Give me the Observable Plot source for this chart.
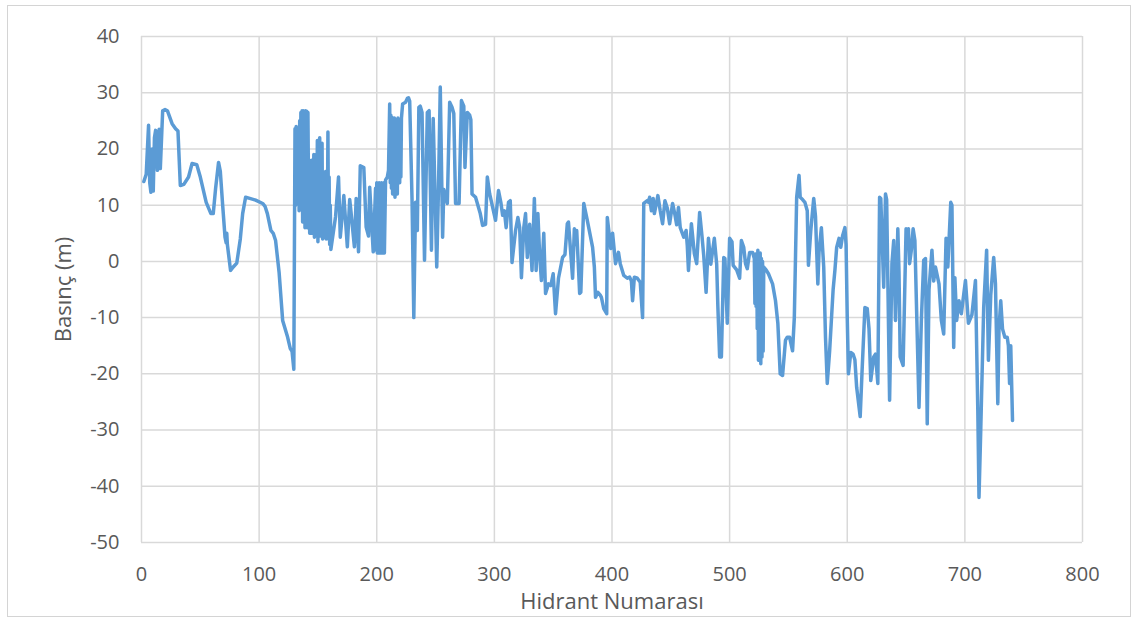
<!DOCTYPE html>
<html>
<head>
<meta charset="utf-8">
<script src="https://cdn.jsdelivr.net/npm/d3@7"></script>
<script src="https://cdn.jsdelivr.net/npm/@observablehq/plot@0.6"></script>
<style>
html, body { margin: 0; padding: 0; background: #fff; }
#wrap { position: relative; width: 1136px; height: 619px; overflow: hidden; }
#border { position: absolute; left: 7px; top: 5px; width: 1124px; height: 612px; box-sizing: border-box; border: 1px solid #d4d4d4; pointer-events: none; }
</style>
</head>
<body>
<div id="wrap"><div id="border"></div></div>
<script>
const xTitle = "Hidrant Numarası";
const yTitle = "Basınç (m)";
const xTicks = [0, 100, 200, 300, 400, 500, 600, 700, 800];
const yTicks = [-50, -40, -30, -20, -10, 0, 10, 20, 30, 40];

const hydrant = [
  2, 4, 6, 7, 8, 9, 10, 11, 12, 13.5,
  15, 16, 18, 20, 22, 26, 29, 31, 33, 36,
  40, 43, 47, 50, 55, 59, 61, 63, 65.5, 67,
  69, 71, 72, 72.5, 73, 75.7, 78, 81, 84, 86,
  88.5, 92, 97, 103, 105, 107, 110, 112, 114, 117,
  120, 124, 126.5, 128, 129.5, 130.5, 131, 131.5, 132, 132.5,
  133, 133.5, 134, 134.5, 135, 135.5, 136, 136.5, 137, 137.5,
  138, 138.5, 139, 139.5, 140, 140.5, 141, 141.5, 142, 142.5,
  143, 143.5, 144, 144.5, 145, 145.5, 146, 146.5, 147, 147.5,
  148, 148.5, 149, 149.5, 150, 150.5, 151, 151.5, 152, 152.5,
  153, 153.5, 154, 154.5, 155, 155.5, 156, 156.5, 157, 157.5,
  158, 158.5, 159, 159.5, 160, 160.5, 161, 165, 167.5, 169,
  171, 172, 175, 177, 178, 181, 182.5, 184.5, 186, 189,
  191, 193, 194, 197, 199, 199.5, 200, 200.5, 201, 201.5,
  202, 202.5, 203, 203.5, 204, 204.5, 205, 205.5, 206, 206.5,
  207.5, 209, 210, 211, 211.5, 212, 212.5, 213, 213.5, 214,
  214.5, 215, 215.5, 216, 216.5, 217, 217.5, 218, 218.5, 219,
  219.5, 220, 220.5, 221, 222, 224.5, 226, 227, 228, 230,
  231.5, 233, 234.5, 235.8, 237, 238.5, 240.6, 243, 244.5, 246.5,
  248, 251, 252.5, 254, 256, 257, 260, 262, 264, 265.5,
  267, 270, 272, 274, 275, 277, 279, 280, 281, 284,
  288, 290, 292.5, 294, 296, 301, 303.5, 305.5, 307, 308.5,
  310, 312, 313.5, 315, 318, 320, 321.5, 323, 325, 326.5,
  328, 330, 332, 334, 335.5, 337, 338.5, 340, 342, 343.5,
  346, 348, 350, 352, 354.5, 358, 360, 362, 363, 366.5,
  368, 369, 370, 372.5, 373.5, 376, 379, 383.5, 385, 386,
  388, 390, 391, 393, 395.5, 396, 397.5, 399, 400.5, 403,
  405.5, 407, 410, 413, 415, 416.5, 417.5, 419, 421.5, 424,
  426, 427, 430, 431, 432, 433.5, 435, 436, 439, 441,
  443, 445, 447, 449, 451.5, 453.5, 455, 456.5, 458, 461,
  463, 464, 465, 467.5, 470, 472, 474.5, 476.5, 478, 480,
  482, 484, 487, 489, 490, 491.5, 493, 495, 496, 498,
  500, 502, 503, 506, 508.5, 510, 512, 513.5, 515, 517,
  519.5, 521, 521.5, 522, 522.5, 523, 523.5, 524, 524.5, 525,
  525.5, 526, 526.5, 527, 527.5, 528, 528.5, 529, 531, 533,
  536.5, 539, 541, 543, 545, 547.5, 549, 551, 553.5, 555,
  557, 559, 560, 562, 564, 566, 567, 569, 571.5, 573,
  575, 576, 578, 580, 581.5, 583, 585, 588, 589.5, 591,
  593, 594.5, 596, 598, 599, 600, 601, 603, 605, 606.5,
  608, 611, 612.5, 615, 617, 618.5, 620, 622.5, 624, 626,
  627.5, 628.5, 631, 632.5, 633.5, 636, 638, 639.5, 641, 643,
  644, 645, 647.5, 650, 651, 652, 653, 654.5, 656, 657.5,
  661, 663, 665, 666.5, 668, 669.5, 672, 673.5, 675, 678,
  680, 682, 684, 685.5, 688, 689, 690.5, 691.5, 693, 695,
  697, 700.5, 703, 706, 709, 711, 712, 713.5, 716, 718.5,
  720, 722, 724.5, 726, 728, 729, 730.5, 732, 734, 736,
  737, 738, 739, 740.5
];
const pressure = [
  14.2, 15.5, 24.2, 14, 12.3, 20, 12.5, 22, 23.3, 16.2,
  23.5, 16.5, 26.8, 27, 26.8, 24.5, 23.6, 23.2, 13.5, 13.7,
  15, 17.4, 17.2, 15, 10.5, 8.5, 8.5, 13, 17.6, 16,
  10, 4.3, 3.3, 5, 3, -1.6, -1, -0.3, 4, 8.5,
  11.4, 11.2, 10.9, 10.3, 9.8, 8.5, 5.5, 5, 3.7, -2,
  -10.5, -13.3, -15.5, -16, -19.2, 23.6, 10, 24, 12, 23,
  14, 21, 9, 25, 12, 26.5, 10, 26.8, 7, 26.8,
  9, 26.5, 6, 26.8, 8, 26.7, 6, 26.5, 12, 17,
  5, 17, 7, 18, 5, 17.5, 6.7, 19, 4.3, 18,
  8, 19, 5, 21.5, 3.5, 21.5, 6, 22, 4.5, 18,
  5, 21, 4, 14, 8, 12, 5, 16, 4, 12,
  6, 23, 4, 15, 3, 10, 2.1, 8, 15, 4.3,
  9, 11.7, 2.6, 11, 9, 2.6, 11.2, 1.7, 17, 16.7,
  6.1, 4.5, 13.2, 1.7, 13, 2, 14, 1.5, 13, 3,
  14, 1.5, 13.5, 2, 14, 1.5, 13, 3, 14, 1.5,
  14.5, 15, 16.2, 28, 14, 26, 13, 25.6, 12, 25,
  15, 25.5, 11.4, 25, 14, 25, 12, 25.5, 15, 25,
  14, 25, 15, 25.5, 28, 28.3, 29, 29.1, 28.5, 11,
  -10, 10.5, 5.5, 27.4, 27.6, 26.5, 0.2, 26.5, 26.8, 2,
  25.4, -1, 13.2, 31, 4.3, 12.8, 10.3, 28.3, 27.4, 26.3,
  10.3, 10.3, 28.6, 27.6, 16.7, 26.5, 26, 25.2, 12, 11.4,
  8.5, 6.4, 6.6, 15, 12, 7.3, 12.6, 10.5, 8.2, 9,
  6, 10.5, 10.8, -0.2, 5.5, 7.8, 6, -2.9, 6, 8.5,
  0.7, 6.6, -1.6, 11.2, -1.6, 8.5, 1, -3.4, 5, -5.7,
  -4, -4.3, -2.2, -9.3, -3, 0.7, 1.2, 6.7, 7, -3,
  5.8, 3, 5.5, -5.7, -5.5, 10.3, 7.3, 2.5, -1, -6.4,
  -5.5, -6, -6.4, -8.4, -9.3, 7.8, 5, 2.3, 5, -0.4,
  1.6, -0.4, -2.5, -3, -2.8, -3.5, -7, -2.8, -3, -3.7,
  -10, 10.3, 10.8, 10.5, 11.4, 9, 11.2, 8.5, 11.7, 9,
  6.7, 10.8, 9.5, 6.7, 10.3, 8.3, 6.5, 9.6, 6, 4.3,
  5.5, 2.8, -1.6, 6.7, 1.4, -0.4, 8.7, 4.5, 1, -5.5,
  4.1, -0.5, 4.1, -0.5, -8, -17, -17, 0.7, 0.5, -11,
  4.1, 3.5, -0.7, -1.5, -3, 3.7, 2.5, -0.4, -1.3, 1.6,
  1.6, 0.5, -7.5, 1.3, -8, 1, -12, 2, -17.6, 1.2,
  -10, 1.5, -18.2, 0.5, -17, 0, -16, -1, -1.5, -2.2,
  -4, -7, -11, -20, -20.3, -14, -13.5, -13.5, -15.9, -10,
  11.4, 15.3, 11.4, 11, 10.5, 9, -0.7, 5.5, 11.2, 8,
  -4, 1.6, 6, -1, -13.5, -21.7, -16, -5, -1.6, 2.5,
  4.1, 2.5, 4.5, 6, 3, -10, -20, -16.2, -16.5, -17.5,
  -22.4, -27.6, -20, -8.2, -8.4, -12, -21.2, -17, -16.5, -21.7,
  11.4, 11.2, -4.6, 12, 11, -24.7, -0.4, 3.7, -10.5, 5.8,
  -2, -17, -18.5, 5.8, 3.7, 5.8, -0.4, 2, 5.8, 3.7,
  -26, -10.5, 0.2, 0.5, -28.9, -5, 2, -3.5, -1, -4,
  -10.5, -12.9, 4.1, -1, 10.5, 10, -15.3, -2.9, -10.5, -7,
  -9.3, -3.4, -11, -9.5, -3.4, -26.5, -42, -30, -8.2, 2,
  -17.6, -6, 0.7, -4, -25.3, -12, -7, -12, -13.5, -13.5,
  -15, -21.7, -15, -28.3
];

const rows = hydrant.map((h, i) => ({hydrant: h, pressure: pressure[i]}));

const textColor = "#595959";
const gridColor = "#d9d9d9";

const chart = Plot.plot({
  width: 1136,
  height: 619,
  marginLeft: 141,
  marginRight: 54,
  marginTop: 36,
  marginBottom: 77,
  style: {fontFamily: "'Open Sans', sans-serif", fontSize: "20px", color: textColor, background: "transparent", overflow: "visible"},
  x: {domain: [0, 800], label: null},
  y: {domain: [-50, 40], label: null},
  marks: [
    Plot.gridX(xTicks, {stroke: gridColor, strokeOpacity: 1, strokeWidth: 1.5}),
    Plot.gridY(yTicks, {stroke: gridColor, strokeOpacity: 1, strokeWidth: 1.5}),
    Plot.axisX(xTicks, {tickSize: 0, tickPadding: 24, fontSize: 20, fill: textColor, label: null, tickFormat: d => String(d)}),
    Plot.axisY(yTicks, {tickSize: 0, tickPadding: 22, fontSize: 20, fill: textColor, label: null, tickFormat: d => String(d)}),
    Plot.line(rows, {x: "hydrant", y: "pressure", stroke: "#5b9bd5", strokeWidth: 3.5, strokeLinejoin: "round", strokeLinecap: "round"}),
    Plot.text([yTitle], {frameAnchor: "left", textAnchor: "middle", lineAnchor: "middle", dx: -78, rotate: -90, text: d => d, fontSize: 22, fill: textColor}),
    Plot.text([xTitle], {frameAnchor: "bottom", textAnchor: "middle", lineAnchor: "middle", dy: 59, text: d => d, fontSize: 22, fill: textColor})
  ]
});
document.getElementById("wrap").prepend(chart);
</script>
</body>
</html>
